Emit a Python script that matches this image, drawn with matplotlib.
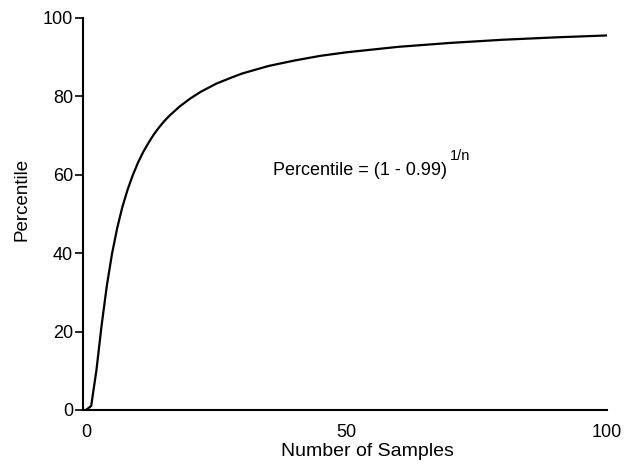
import matplotlib.pyplot as plt

plt.rcParams['font.family'] = ['Liberation Sans', 'DejaVu Sans']

# values
n_samples = [0, 1, 2, 3, 4, 5, 6, 7, 8, 9, 10, 11, 12, 13, 14, 15, 16, 18, 20,
             22, 25, 28, 30, 35, 40, 45, 50, 60, 70, 80, 90, 100]
percentile = [0, 1.0, 10.0, 21.5, 31.6, 39.8, 46.4, 51.8, 56.2, 59.9, 63.1,
              65.8, 68.1, 70.2, 72.0, 73.6, 75.0, 77.4, 79.4, 81.1, 83.2, 84.8,
              85.8, 87.7, 89.1, 90.3, 91.2, 92.6, 93.6, 94.4, 95.0, 95.5]

fig = plt.figure(figsize=(6.37, 4.68), dpi=100)
ax = fig.add_axes([0.130, 0.124, 0.823, 0.838])

ax.plot(n_samples, percentile, color='black', lw=1.6, solid_joinstyle='round')

ax.set_xlim(-0.6, 100)
ax.set_ylim(0, 100)
ax.set_xticks([0, 50, 100])
ax.set_yticks([0, 20, 40, 60, 80, 100])
ax.spines['top'].set_visible(False)
ax.spines['right'].set_visible(False)
ax.spines['left'].set_linewidth(1.5)
ax.spines['bottom'].set_linewidth(1.5)
ax.tick_params(axis='y', length=6, width=1.2, labelsize=13, pad=1)
ax.tick_params(axis='x', length=0, labelsize=13, pad=10)

ax.set_xlabel('Number of Samples', fontsize=14)
ax.xaxis.set_label_coords(0.542, -0.083)
ax.set_ylabel('Percentile', fontsize=13.5)
ax.yaxis.set_label_coords(-0.099, 0.536)

ax.text(35.9, 61.0, 'Percentile = (1 - 0.99)', fontsize=13, va='center', ha='left')
ax.text(69.9, 64.8, '1/n', fontsize=10.5, va='center', ha='left')

fig.savefig('out.png', dpi=100)
